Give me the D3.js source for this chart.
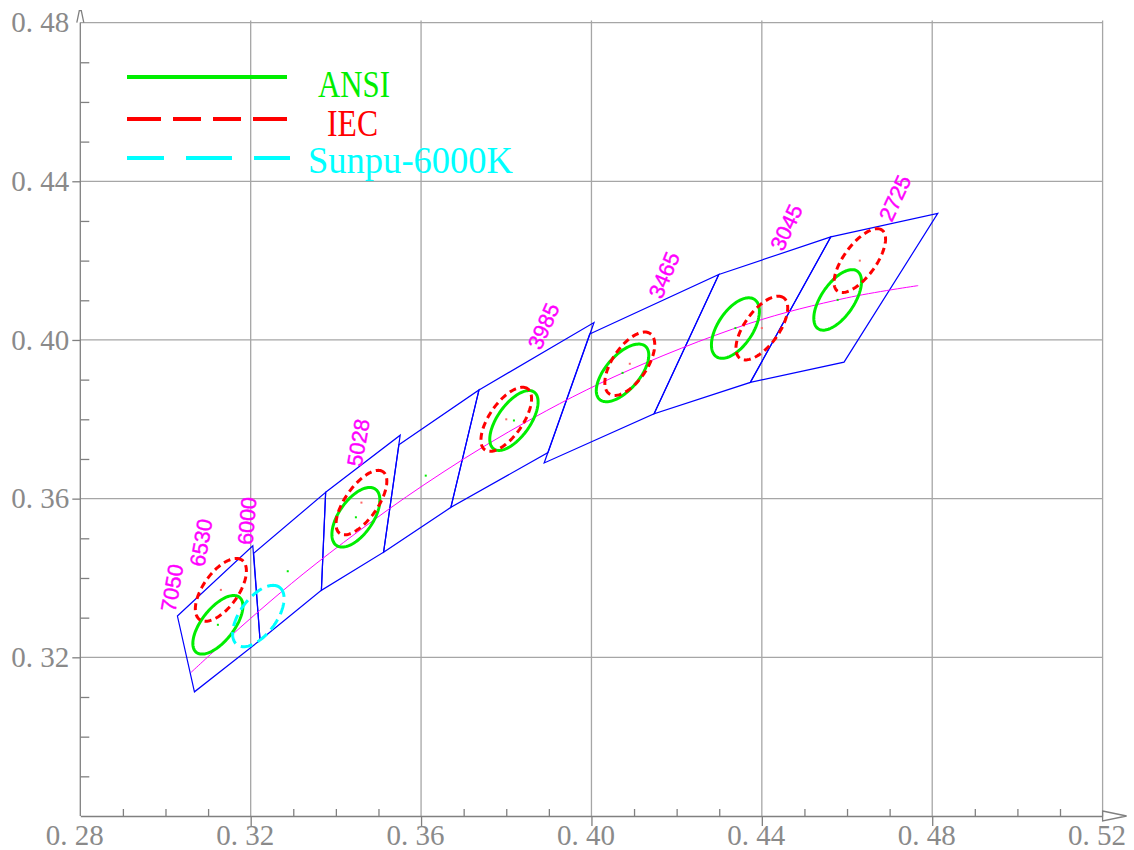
<!DOCTYPE html>
<html>
<head>
<meta charset="utf-8">
<script src="https://cdn.jsdelivr.net/npm/d3@7"></script>
<style>
  body { margin: 0; background: #fff; }
  .axis text { font-family: "Liberation Serif", serif; font-size: 29px; fill: #8a8a8a; }
  .axis path, .axis line { stroke: #808080; stroke-width: 1.3; }
</style>
</head>
<body>
<div id="chart"></div>
<script>
// ANSI quadrangles, corners as CIE 1931 [x, y]: top-left, top-right, bottom-right, bottom-left
var quadNames = ["6500", "5700", "5000", "4500", "4000", "3500", "3000", "2700"];
var quadCorners = [
    [[0.3028, 0.3304], [0.3205, 0.3481], [0.3222, 0.3243], [0.3068, 0.3113]],
    [[0.3207, 0.3462], [0.3376, 0.3616], [0.3366, 0.3369], [0.3222, 0.3243]],
    [[0.3376, 0.3616], [0.3551, 0.3760], [0.3512, 0.3465], [0.3366, 0.3369]],
    [[0.3548, 0.3736], [0.3736, 0.3874], [0.3670, 0.3578], [0.3512, 0.3465]],
    [[0.3736, 0.3874], [0.4006, 0.4044], [0.3898, 0.3716], [0.3670, 0.3578]],
    [[0.3996, 0.4015], [0.4299, 0.4165], [0.4147, 0.3814], [0.3889, 0.3690]],
    [[0.4299, 0.4165], [0.4562, 0.4260], [0.4373, 0.3893], [0.4147, 0.3814]],
    [[0.4562, 0.4260], [0.4813, 0.4319], [0.4593, 0.3944], [0.4373, 0.3893]]
];
var ansiCenters = [[0.3123, 0.3282], [0.3287, 0.3417], [0.3447, 0.3553], [0.3611, 0.3658],
                   [0.3818, 0.3797], [0.4073, 0.3917], [0.4338, 0.4030], [0.4578, 0.4101]];

// ellipses: [cx, cy, semi-major, semi-minor, angle in degrees]
var ansiEllipses = [
    [0.3123, 0.3282, 0.0086, 0.0039, 55],
    [0.3447, 0.3553, 0.00845, 0.0041, 58.5],
    [0.3818, 0.3797, 0.0086, 0.0039, 57.5],
    [0.4073, 0.3917, 0.0086, 0.0041, 52.5],
    [0.4338, 0.4030, 0.0085, 0.0042, 59.5],
    [0.4578, 0.4101, 0.0086, 0.00395, 58.7]
];
var iecEllipses = [
    [0.313, 0.337, 0.0090, 0.0042, 57.5],
    [0.346, 0.359, 0.0093, 0.0039, 57.7],
    [0.380, 0.380, 0.0092, 0.0040, 58],
    [0.409, 0.394, 0.0090, 0.00415, 58.8],
    [0.440, 0.403, 0.0092, 0.0041, 57],
    [0.463, 0.420, 0.0093, 0.00385, 56.6]
];
var sunpuEllipse = [0.3218, 0.3304, 0.0088, 0.00435, 56.8];

// Planckian locus, roughly 7050 K to 2500 K
var locusX = [0.3060, 0.3135, 0.3221, 0.3323, 0.3451, 0.3607, 0.3805, 0.4053, 0.4369, 0.4599, 0.4767];
var locusY = [0.3162, 0.3236, 0.3318, 0.3410, 0.3516, 0.3635, 0.3768, 0.3907, 0.4041, 0.4106, 0.4137];

// CCT labels and where they sit (x, y)
var cctLabels = ["7050", "6530", "6000", "5028", "3985", "3465", "3045", "2725"];
var cctLabelX = [0.3015, 0.3083, 0.3191, 0.3452, 0.3887, 0.4170, 0.4457, 0.4712];
var cctLabelY = [0.3375, 0.3489, 0.3544, 0.3741, 0.4035, 0.4164, 0.4284, 0.4358];

var xMajor = [0.28, 0.32, 0.36, 0.40, 0.44, 0.48, 0.52];
var yMajor = [0.32, 0.36, 0.40, 0.44, 0.48];

var legendNames = ["ANSI", "IEC", "Sunpu-6000K"];

// ---------------------------------------------------------------
var width = 1134, height = 850;
var svg = d3.select("#chart").append("svg")
    .attr("width", width)
    .attr("height", height);

var x = d3.scaleLinear().domain([0.28, 0.52]).range([80.3, 1102.6]);
var y = d3.scaleLinear().domain([0.28, 0.48]).range([816, 22.6]);

var labelAngle = [-80, -80, -85, -80, -66, -67, -65, -65];

// grid
var grid = svg.append("g").attr("class", "grid");
grid.selectAll(".vgrid")
    .data(xMajor.slice(1))
    .enter().append("line")
    .attr("x1", function(d) { return x(d); })
    .attr("x2", function(d) { return x(d); })
    .attr("y1", y(0.48) - 2)
    .attr("y2", y(0.28))
    .attr("stroke", "#a6a6a6")
    .attr("stroke-width", 1.3);
grid.selectAll(".hgrid")
    .data(yMajor)
    .enter().append("line")
    .attr("x1", x(0.28))
    .attr("x2", x(0.52))
    .attr("y1", function(d) { return y(d); })
    .attr("y2", function(d) { return y(d); })
    .attr("stroke", "#a6a6a6")
    .attr("stroke-width", 1.3);

// axes
function fmt(d) { return d3.format(".2f")(d).replace(".", ". "); }

var minorX = d3.range(29, 52).map(function(v) { return v / 100; })
    .filter(function(v) { return Math.round(v * 100) % 4 !== 0; });
var minorY = d3.range(29, 48).map(function(v) { return v / 100; })
    .filter(function(v) { return Math.round(v * 100) % 4 !== 0; });

var xAxis = svg.append("g").attr("class", "axis")
    .attr("transform", "translate(0," + y(0.28) + ")")
    .call(d3.axisBottom(x).tickValues(xMajor).tickSize(10).tickSizeOuter(0)
        .tickPadding(-1.5).tickFormat(fmt));
xAxis.selectAll(".tick text").attr("dx", -6);
xAxis.selectAll(".tick line").filter(function(d) { return d === 0.28 || d === 0.52; }).remove();

svg.append("g").attr("class", "axis")
    .attr("transform", "translate(0," + y(0.28) + ")")
    .call(d3.axisBottom(x).tickValues(minorX).tickSize(-7).tickFormat(""))
    .select(".domain").remove();

var yAxis = svg.append("g").attr("class", "axis")
    .attr("transform", "translate(" + x(0.28) + ",0)")
    .call(d3.axisLeft(y).tickValues(yMajor).tickSize(8).tickSizeOuter(0).tickFormat(fmt));
yAxis.selectAll(".tick line").filter(function(d) { return d === 0.48; }).remove();
yAxis.select(".domain").attr("d", "M0," + y(0.28) + "V" + y(0.48));

svg.append("g").attr("class", "axis")
    .attr("transform", "translate(" + x(0.28) + ",0)")
    .call(d3.axisLeft(y).tickValues(minorY).tickSize(-9).tickFormat(""))
    .select(".domain").remove();

// axis arrows
var ax0 = x(0.52), ay0 = y(0.28);
svg.append("path")
    .attr("d", "M" + ax0 + "," + (ay0 - 5) + "L" + (ax0 + 24) + "," + ay0 + "L" + ax0 + "," + (ay0 + 5) + "Z")
    .attr("fill", "none").attr("stroke", "#808080").attr("stroke-width", 1.3);
var bx0 = x(0.28), by0 = y(0.48);
svg.append("path")
    .attr("d", "M" + (bx0 - 3.5) + "," + by0 + "L" + (bx0 - 1) + "," + (by0 - 12) + "L" + (bx0 + 1) + "," + (by0 - 12) + "L" + (bx0 + 3.5) + "," + by0)
    .attr("fill", "none").attr("stroke", "#808080").attr("stroke-width", 1.3);

// quadrangles
var quadLine = d3.line()
    .x(function(d) { return x(d[0]); })
    .y(function(d) { return y(d[1]); })
    .curve(d3.curveLinearClosed);

svg.append("g").selectAll(".quad")
    .data(quadCorners)
    .enter().append("path")
    .attr("class", "quad")
    .attr("d", quadLine)
    .attr("fill", "none")
    .attr("stroke", "#0000ff")
    .attr("stroke-width", 1.2);

// Planckian locus
var locusLine = d3.line()
    .x(function(d) { return x(d[0]); })
    .y(function(d) { return y(d[1]); })
    .curve(d3.curveCatmullRom);

svg.append("path")
    .datum(locusX.map(function(v, i) { return [v, locusY[i]]; }))
    .attr("d", locusLine)
    .attr("fill", "none")
    .attr("stroke", "#ff00ff")
    .attr("stroke-width", 1);

// ellipses
function ellipsePoints(e) {
    var th = e[4] * Math.PI / 180;
    return d3.range(0, 360, 3).map(function(t) {
        var r = t * Math.PI / 180;
        return [
            e[0] + e[2] * Math.cos(th) * Math.cos(r) - e[3] * Math.sin(th) * Math.sin(r),
            e[1] + e[2] * Math.sin(th) * Math.cos(r) + e[3] * Math.cos(th) * Math.sin(r)
        ];
    });
}
var ellipseLine = d3.line()
    .x(function(d) { return x(d[0]); })
    .y(function(d) { return y(d[1]); })
    .curve(d3.curveLinearClosed);

svg.append("g").selectAll("path")
    .data(ansiEllipses)
    .enter().append("path")
    .attr("d", function(d) { return ellipseLine(ellipsePoints(d)); })
    .attr("fill", "none")
    .attr("stroke", "#00ee00")
    .attr("stroke-width", 3);

svg.append("g").selectAll("path")
    .data(iecEllipses)
    .enter().append("path")
    .attr("d", function(d) { return ellipseLine(ellipsePoints(d)); })
    .attr("fill", "none")
    .attr("stroke", "#ff0000")
    .attr("stroke-width", 3)
    .attr("stroke-dasharray", "7,4.5");

svg.append("path")
    .attr("d", ellipseLine(ellipsePoints(sunpuEllipse)))
    .attr("fill", "none")
    .attr("stroke", "#00ffff")
    .attr("stroke-width", 3)
    .attr("stroke-dasharray", "12,6");

// centre dots
svg.append("g").selectAll("rect")
    .data(ansiCenters)
    .enter().append("rect")
    .attr("x", function(d) { return x(d[0]) - 1; })
    .attr("y", function(d) { return y(d[1]) - 1; })
    .attr("width", 2).attr("height", 2)
    .attr("fill", "#00ee00");
svg.append("g").selectAll("rect")
    .data(iecEllipses)
    .enter().append("rect")
    .attr("x", function(d) { return x(d[0]) - 1; })
    .attr("y", function(d) { return y(d[1]) - 1; })
    .attr("width", 2).attr("height", 2)
    .attr("fill", "#ff6666");

// CCT labels
svg.append("g").selectAll("text")
    .data(cctLabels)
    .enter().append("text")
    .attr("transform", function(d, i) {
        return "translate(" + x(cctLabelX[i]) + "," + y(cctLabelY[i]) + ") rotate(" + labelAngle[i] + ")";
    })
    .attr("text-anchor", "middle")
    .attr("dy", "0.36em")
    .attr("font-family", "Liberation Sans, Arial, sans-serif")
    .attr("font-size", 21.5)
    .attr("fill", "#ff00ff")
    .attr("stroke", "#ff00ff")
    .attr("stroke-width", 0.4)
    .text(function(d) { return d; });

// legend
var legendColors = ["#00ee00", "#ff0000", "#00ffff"];
var legendDash = [null, "34,12,28,12,28,12,34", "46,22"];
var legendDashOffset = [0, 0, 9];
var legendY = [77, 119, 158];
var legendTextX = [354, 352.5, 410.5];
var legendTextY = [97, 136, 173];
var legendTextLen = [72, 51, 205];

var legend = svg.append("g");
legend.selectAll("line")
    .data(legendNames)
    .enter().append("line")
    .attr("x1", 127)
    .attr("x2", function(d, i) { return i === 2 ? 290 : 287; })
    .attr("y1", function(d, i) { return legendY[i]; })
    .attr("y2", function(d, i) { return legendY[i]; })
    .attr("stroke", function(d, i) { return legendColors[i]; })
    .attr("stroke-width", 4)
    .attr("stroke-dasharray", function(d, i) { return legendDash[i]; })
    .attr("stroke-dashoffset", function(d, i) { return legendDashOffset[i]; });

legend.selectAll("text")
    .data(legendNames)
    .enter().append("text")
    .attr("x", function(d, i) { return legendTextX[i] - legendTextLen[i] / 2; })
    .attr("y", function(d, i) { return legendTextY[i]; })
    .attr("textLength", function(d, i) { return legendTextLen[i]; })
    .attr("lengthAdjust", "spacingAndGlyphs")
    .attr("font-family", "Liberation Serif, serif")
    .attr("font-size", 37)
    .attr("fill", function(d, i) { return legendColors[i]; })
    .text(function(d) { return d; });
</script>
</body>
</html>
